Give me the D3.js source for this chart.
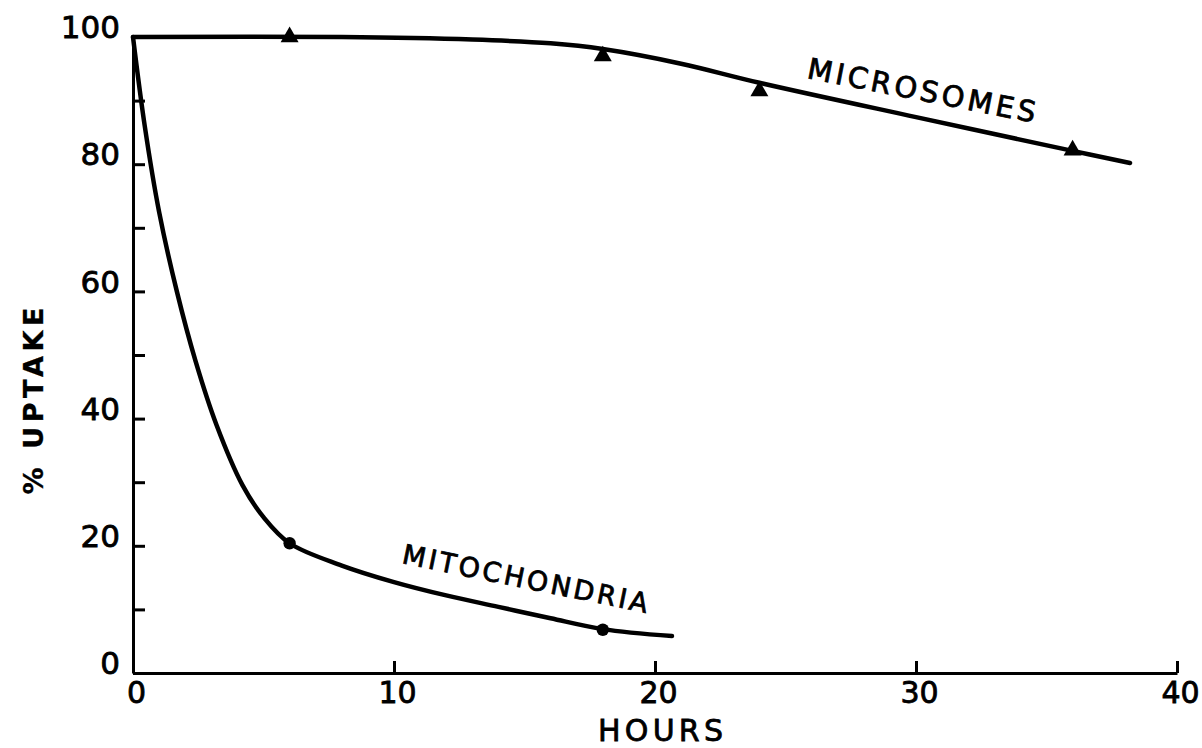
<!DOCTYPE html>
<html>
<head>
<meta charset="utf-8">
<script src="https://cdn.jsdelivr.net/npm/d3@7"></script>
<style>
  html, body { margin: 0; padding: 0; background: #fff; }
  svg { display: block; }
  text { font-family: "DejaVu Sans", "Liberation Sans", sans-serif; fill: #000; stroke: #000; stroke-width: 0.8px; }
</style>
</head>
<body>
<svg id="chart" width="1202" height="748"></svg>
<script>
// ---- data ----
const xTickValues = [0, 10, 20, 30, 40];
const yTickValues = [0, 10, 20, 30, 40, 50, 60, 70, 80, 90, 100];
const yTickLabels = [0, 20, 40, 60, 80, 100];

// measured points (hours, % uptake)
const microsomesHours  = [6, 18, 24, 36];
const microsomesUptake = [100, 97.0, 91.5, 82.2];
const mitochondriaHours  = [6, 18];
const mitochondriaUptake = [20.4, 6.8];

// hand-drawn fitted curves
const microsomesCurveHours  = [0, 8, 13, 16, 18, 21, 24, 30, 36, 38.2];
const microsomesCurveUptake = [100, 100, 99.6, 99.0, 98.1, 95.8, 92.8, 87.4, 82.1, 80.2];
const mitochondriaCurveHours  = [0, 0.45, 1.0, 1.68, 2.40, 3.2, 4.2, 5.0, 6, 8, 10, 12, 14, 16, 18, 20.65];
const mitochondriaCurveUptake = [100, 86, 72.5, 60, 49, 39, 29.5, 24.5, 20.4, 16.9, 14.3, 12.2, 10.4, 8.6, 6.9, 5.8];

const xTitle = "HOURS";
const yTitle = "% UPTAKE";
const microsomesLabel = "MICROSOMES";
const mitochondriaLabel = "MITOCHONDRIA";

// ---- drawing ----
const svg = d3.select("#chart");
const x = d3.scaleLinear().domain([0, 40]).range([133, 1177]);
const y = d3.scaleLinear().domain([0, 100]).range([673, 37]);
const FONT = "'DejaVu Sans', 'Liberation Sans', sans-serif";

const zip = (a, b) => a.map((v, i) => [v, b[i]]);

// y axis
const yAxis = d3.axisLeft(y)
  .tickValues(yTickValues)
  .tickSizeInner(-12)
  .tickSizeOuter(0)
  .tickPadding(13)
  .tickFormat(d => yTickLabels.includes(d) ? String(d) : "");
const gy = svg.append("g").attr("transform", `translate(${x(0)},0)`).call(yAxis);
gy.select(".domain").attr("stroke", "#000").attr("stroke-width", 3);
gy.selectAll(".tick line").attr("stroke", "#000").attr("stroke-width", 3);
gy.selectAll(".tick text")
  .attr("dy", "0.02em")
  .style("font-size", "31px")
  .style("font-family", FONT)
  .attr("fill", "#000");

// x axis
const xAxis = d3.axisBottom(x)
  .tickValues(xTickValues)
  .tickSizeInner(-12)
  .tickSizeOuter(0)
  .tickPadding(9)
  .tickFormat(d => String(d));
const gx = svg.append("g").attr("transform", `translate(0,${y(0)})`).call(xAxis);
gx.select(".domain").attr("stroke", "#000").attr("stroke-width", 3);
gx.selectAll(".tick line").attr("stroke", "#000").attr("stroke-width", 3);
gx.selectAll(".tick text")
  .attr("dx", "3")
  .style("font-size", "30px")
  .style("font-family", FONT)
  .attr("fill", "#000");

// curves
const line = d3.line()
  .x(d => x(d[0]))
  .y(d => y(d[1]))
  .curve(d3.curveCatmullRom.alpha(0.5));

svg.append("path")
  .datum(zip(microsomesCurveHours, microsomesCurveUptake))
  .attr("d", line)
  .attr("fill", "none")
  .attr("stroke", "#000")
  .attr("stroke-width", 4.5)
  .attr("stroke-linecap", "round");

svg.append("path")
  .datum(zip(mitochondriaCurveHours, mitochondriaCurveUptake))
  .attr("d", line)
  .attr("fill", "none")
  .attr("stroke", "#000")
  .attr("stroke-width", 4.5)
  .attr("stroke-linecap", "round");

// markers
svg.append("g").selectAll("path")
  .data(zip(microsomesHours, microsomesUptake))
  .join("path")
  .attr("transform", d => `translate(${x(d[0])},${y(d[1])})`)
  .attr("d", d3.symbol().type(d3.symbolTriangle).size(140))
  .attr("fill", "#000");

svg.append("g").selectAll("circle")
  .data(zip(mitochondriaHours, mitochondriaUptake))
  .join("circle")
  .attr("cx", d => x(d[0]))
  .attr("cy", d => y(d[1]))
  .attr("r", 6.2)
  .attr("fill", "#000");

// axis titles
svg.append("text")
  .attr("x", 598).attr("y", 741)
  .attr("textLength", 125)
  .attr("lengthAdjust", "spacing")
  .style("font-size", "30px")
  .text(xTitle);

svg.append("text")
  .attr("transform", "translate(43,401) rotate(-90)")
  .attr("text-anchor", "middle")
  .attr("textLength", 187)
  .attr("lengthAdjust", "spacing")
  .style("font-size", "27px")
  .style("font-weight", "bold")
  .style("stroke-width", "0.3px")
  .text(yTitle);

// curve labels
svg.append("text")
  .attr("transform", "translate(806,78) rotate(11.1)")
  .attr("textLength", 232)
  .attr("lengthAdjust", "spacing")
  .style("font-size", "29px")
  .text(microsomesLabel);

svg.append("text")
  .attr("transform", "translate(401,563) rotate(11.5)")
  .attr("textLength", 250)
  .attr("lengthAdjust", "spacing")
  .style("font-size", "27px")
  .text(mitochondriaLabel);
</script>
</body>
</html>
